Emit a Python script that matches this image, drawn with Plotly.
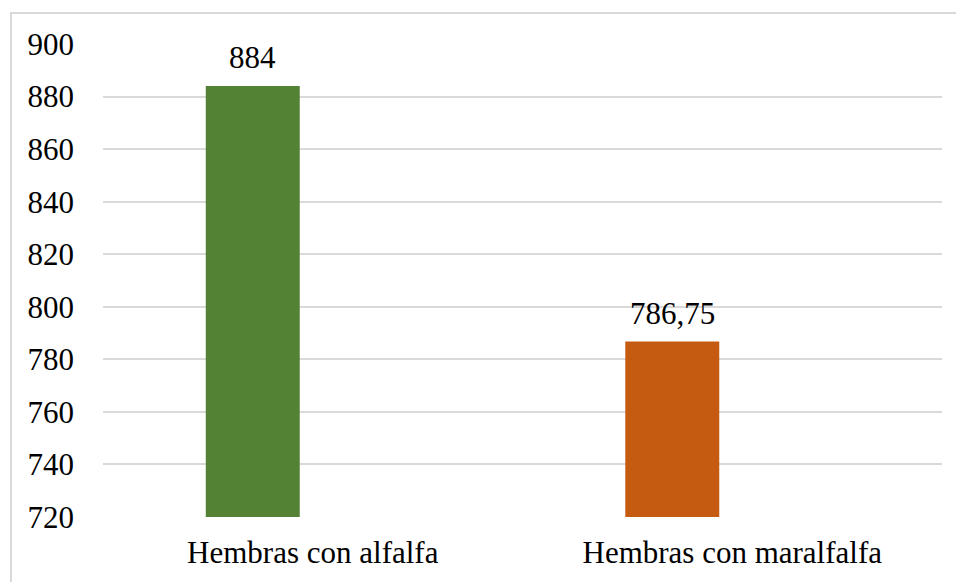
import plotly.graph_objects as go

categories = ["Hembras con alfalfa", "Hembras con maralfalfa"]
values = [884, 786.75]
value_labels = ["884", "786,75"]
bar_colors = ["#548235", "#C55A11"]
y_ticks = [720, 740, 760, 780, 800, 820, 840, 860, 880, 900]

FONT = "'Liberation Serif', 'Times New Roman', serif"

fig = go.Figure()
fig.add_trace(go.Bar(
    x=categories, y=values,
    marker=dict(color=bar_colors, line=dict(width=0)),
    offset=-0.255, width=0.224,
    hoverinfo="x+y",
))

for i, (c, v, t) in enumerate(zip(categories, values, value_labels)):
    fig.add_annotation(
        x=i - 0.143, y=v, text=t, showarrow=False,
        xref="x", yref="y", yanchor="bottom", yshift=9,
        font=dict(family=FONT, size=31, color="#000000"),
    )

fig.add_shape(
    type="rect", xref="paper", yref="paper",
    x0=-0.1097, y0=-1, x1=2, y1=1.0655,
    line=dict(color="#d9d9d9", width=2), fillcolor="rgba(0,0,0,0)",
    layer="below",
)

fig.update_layout(
    width=956, height=582,
    margin=dict(l=103, r=14, t=44, b=65),
    paper_bgcolor="white", plot_bgcolor="white",
    showlegend=False,
    font=dict(family=FONT, size=31, color="#000000"),
    xaxis=dict(
        type="category", range=[-0.5, 1.5],
        showgrid=False, showline=False, zeroline=False, ticks="",
        ticklabelstandoff=14,
        tickfont=dict(family=FONT, size=31, color="#000000"),
    ),
    yaxis=dict(
        range=[720, 900], tickvals=y_ticks,
        ticktext=[str(v) for v in y_ticks],
        showgrid=True, gridcolor="#d9d9d9", gridwidth=1.5,
        showline=False, zeroline=False, ticks="",
        ticklabelstandoff=28,
        tickfont=dict(family=FONT, size=31, color="#000000"),
    ),
)

fig.write_html("out.html")
